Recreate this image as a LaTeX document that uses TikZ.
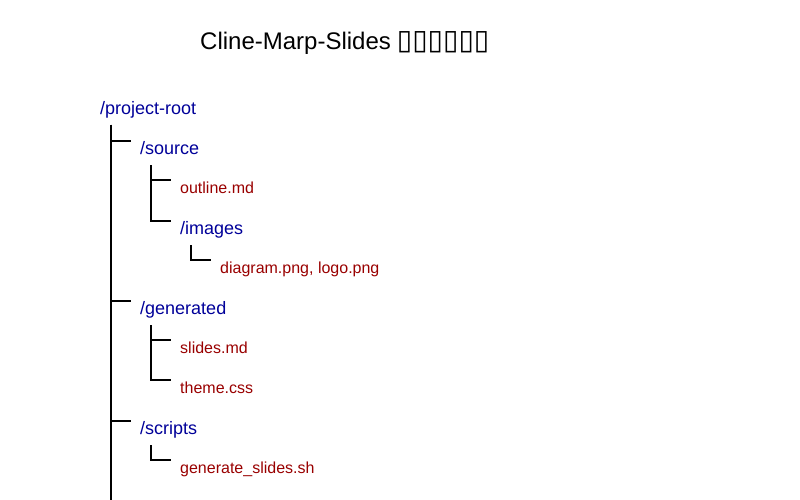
\documentclass[tikz,border=0pt]{standalone}
\usepackage{fontspec}
\setmainfont{Liberation Sans}
\newfontfamily\boxfont{DejaVu Sans}
\definecolor{dirblue}{RGB}{0,0,153}
\definecolor{filered}{RGB}{153,0,0}
\begin{document}
\begin{tikzpicture}[x=1pt,y=-1pt,
		dir/.style={anchor=base west,inner sep=0pt,text=dirblue,font=\fontsize{18}{20}\selectfont},
		file/.style={anchor=base west,inner sep=0pt,text=filered,font=\fontsize{16}{18}\selectfont},
		branch/.style={black,line width=2pt}]
	\useasboundingbox (0,0) rectangle (800,500);
	\node [anchor=base west,inner sep=0pt,font=\fontsize{24}{28}\selectfont] (title) at (200,50) {Cline-Marp-Slides\hspace{6pt}{\boxfont\fontsize{28}{30}\selectfont ▯▯▯▯▯▯}};
	% tree entries
	\node [dir] (root) at (100,114) {/project-root};
	\node [dir] (source) at (140,154) {/source};
	\node [file] (outline) at (180,193) {outline.md};
	\node [dir] (images) at (180,234) {/images};
	\node [file] (pictures) at (220,273) {diagram.png, logo.png};
	\node [dir] (generated) at (140,314) {/generated};
	\node [file] (slides) at (180,353) {slides.md};
	\node [file] (theme) at (180,393) {theme.css};
	\node [dir] (scripts) at (140,434) {/scripts};
	\node [file] (script) at (180,473) {generate\_slides.sh};
	\coordinate (trunkend) at (111,500);
	% branches
	\draw [branch] ([shift={(11,11)}]root.base west) -- (trunkend);
	\foreach \p/\c in {root/source,root/generated,root/scripts,source/outline,source/images,images/pictures,generated/slides,generated/theme,scripts/script}
		\draw [branch] ([shift={(11,11)}]\p.base west) |- ([shift={(-9,-13)}]\c.base west);
\end{tikzpicture}
\end{document}
